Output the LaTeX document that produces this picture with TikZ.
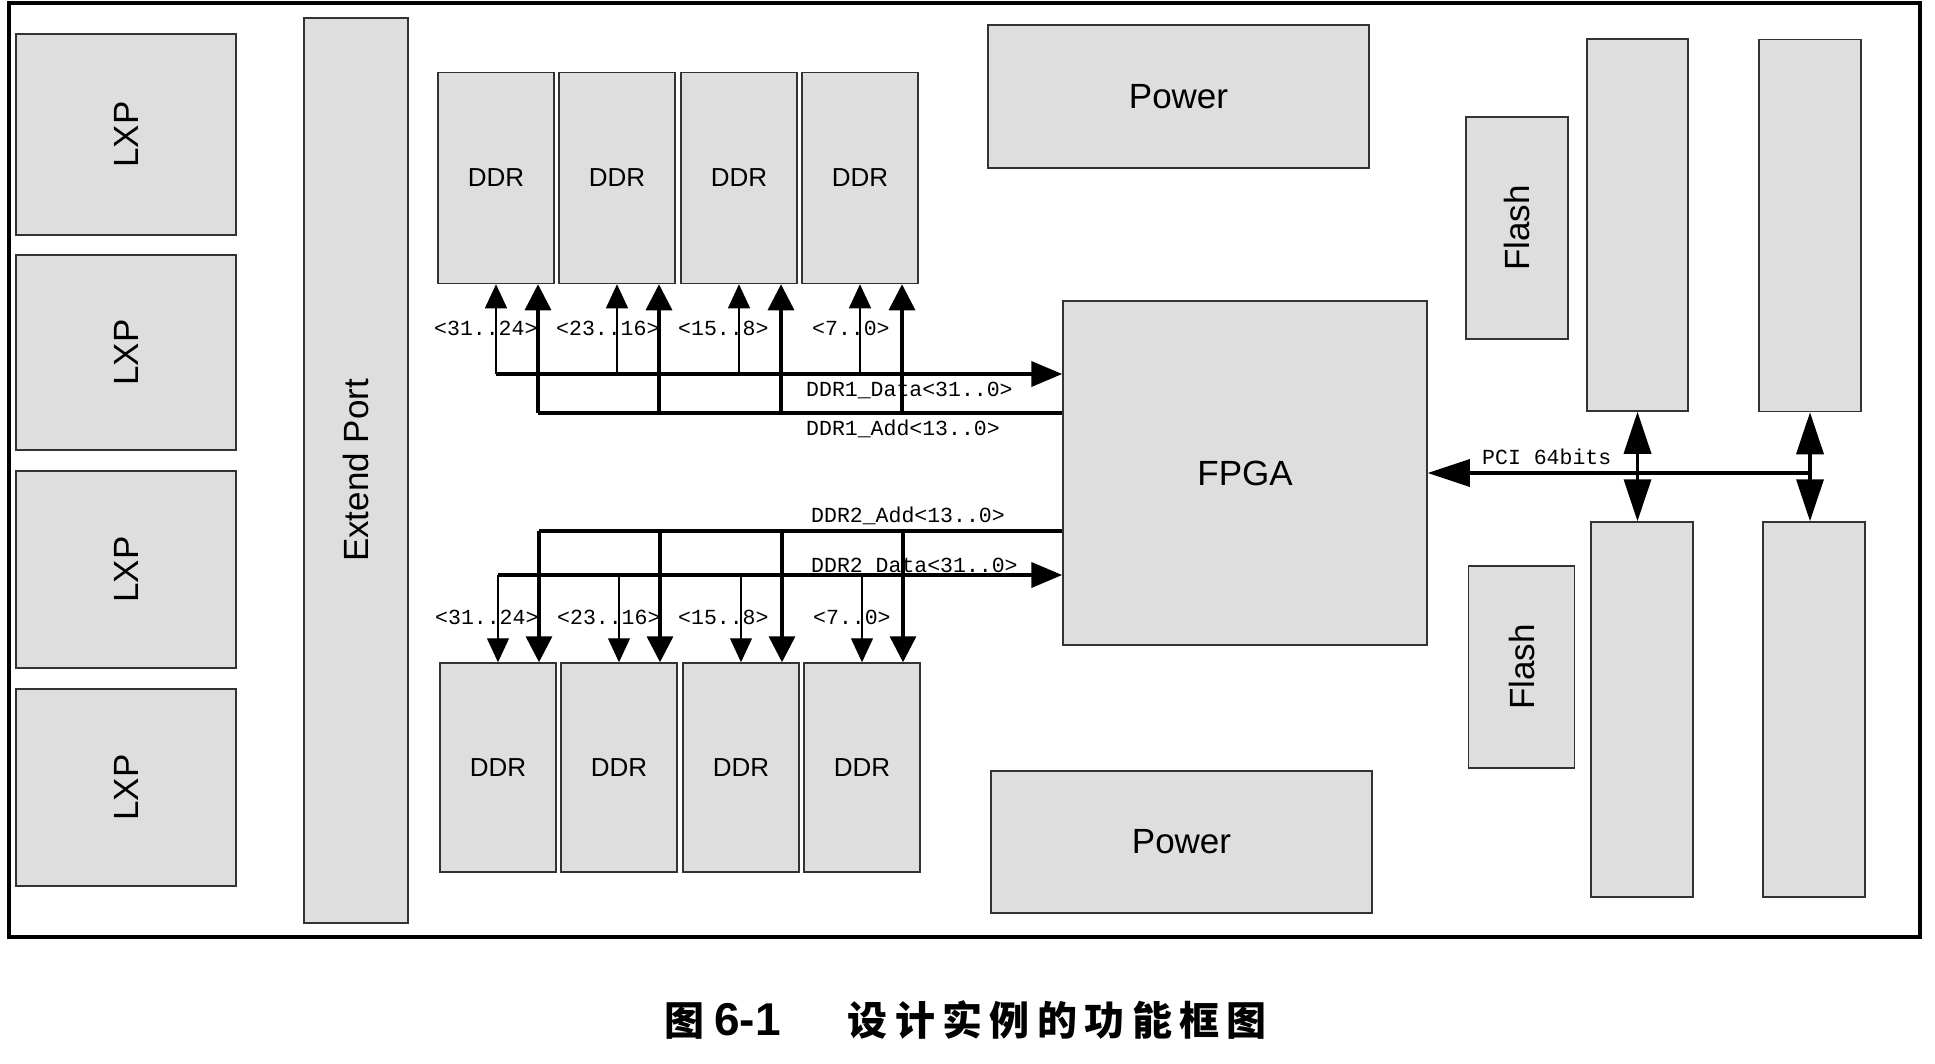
\documentclass[tikz,border=0pt]{standalone}
\usepackage{fontspec}
\setmainfont{Liberation Sans}
\setmonofont{Liberation Mono}
\newfontfamily\cjk{Noto Sans CJK SC}
\usetikzlibrary{arrows.meta,positioning,calc}

\begin{document}
\begin{tikzpicture}[x=1pt, y=-1pt,
  box/.style={draw=black!80, fill=black!13, line width=1.5pt, inner sep=0pt},
  big/.style={font=\fontsize{35}{40}\selectfont},
  ddr/.style={box, minimum width=116pt, minimum height=211pt, font=\fontsize{26}{30}\selectfont},
  sig/.style={font=\ttfamily\fontsize{21.5}{24}\selectfont, inner sep=0pt, anchor=base west},
  datbus/.style={line width=1.3pt, -{Triangle[length=24pt,width=22pt]}},
  addbus/.style={line width=3.5pt, -{Triangle[length=26pt,width=26pt]}},
  pci/.style={line width=3.5pt, {Triangle[length=42pt,width=27pt]}-{Triangle[length=42pt,width=27pt]}}]
\useasboundingbox (0,0) rectangle (1935,1063);

% outer frame
\draw[line width=4pt] (9,3) rectangle (1920,937);

% left column
\foreach \i/\y/\h in {1/134.5/201, 2/352.5/195, 3/569.5/197, 4/787.5/197}
  \node[box, big, minimum width=220pt, minimum height=\h pt] (L\i) at (126,\y) {\rotatebox{90}{LXP}};
\node[box, big, minimum width=104pt, minimum height=905pt] (ext) at (356,470.5) {\rotatebox{90}{Extend Port}};

% DDR banks
\foreach \i/\x in {1/496, 2/617, 3/739, 4/860}{
  \node[ddr] (T\i) at (\x,178) {DDR};
  \node[ddr, minimum height=209pt] (B\i) at (\x+2,767.5) {DDR};
}

\node[box, big, minimum width=381pt, minimum height=143pt] (pw1) at (1178.5,96.5) {Power};
\node[box, big, minimum width=381pt, minimum height=142pt] (pw2) at (1181.5,842) {Power};
\node[box, big, minimum width=364pt, minimum height=344pt] (fpga) at (1245,473) {FPGA};

\node[box, big, minimum width=102pt, minimum height=222pt] (fl1) at (1517,228) {\rotatebox{90}{Flash}};
\node[box, big, minimum width=106pt, minimum height=202pt] (fl2) at (1521.5,667) {\rotatebox{90}{Flash}};

% PCI slots
\node[box, minimum width=101pt, minimum height=372pt] (s1) at (1637.5,225) {};
\node[box, minimum width=102pt, minimum height=372pt] (s2) at (1810,225.5) {};
\node[box, minimum width=102pt, minimum height=375pt] (s3) at (1642,709.5) {};
\node[box, minimum width=102pt, minimum height=375pt] (s4) at (1814,709.5) {};

% DDR1 bus
\coordinate (d1) at (496,374);
\coordinate (a1) at (538,413);
\draw[line width=4pt, -{Triangle[length=31pt,width=25pt]}] (d1) -- (fpga.west |- d1);
\draw[line width=3.5pt] (a1) -- (fpga.west |- a1);
\foreach \i in {1,...,4}{
  \path (T\i.south) ++(42,0) coordinate (T\i x);
  \draw[datbus] (T\i.south |- d1) -- (T\i.south);
  \draw[addbus] (T\i x |- a1) -- (T\i x);
}
\foreach \i/\x/\t in {1/434/{<31..24>}, 2/556/{<23..16>}, 3/678/{<15..8>}, 4/812/{<7..0>}}
  \node[sig] (lt\i) at (\x,335.5) {\t};
\node[sig] (dl1) at (806,396) {DDR1\_Data<31..0>};
\node[sig] (al1) at (806,435) {DDR1\_Add<13..0>};

% DDR2 bus
\coordinate (d2) at (498,575);
\coordinate (a2) at (539,531);
\draw[line width=4pt, -{Triangle[length=31pt,width=25pt]}] (d2) -- (fpga.west |- d2);
\draw[line width=3.5pt] (a2) -- (fpga.west |- a2);
\foreach \i in {1,...,4}{
  \path (B\i.north) ++(41,0) coordinate (B\i x);
  \draw[datbus] (B\i.north |- d2) -- (B\i.north);
  \draw[addbus] (B\i x |- a2) -- (B\i x);
}
\foreach \i/\x/\t in {1/435/{<31..24>}, 2/557/{<23..16>}, 3/678/{<15..8>}, 4/813/{<7..0>}}
  \node[sig] (lb\i) at (\x,624) {\t};
\node[sig] (al2) at (811,522) {DDR2\_Add<13..0>};
\node[sig] (dl2) at (811,572) {DDR2\_Data<31..0>};

% PCI bus
\draw[line width=3.5pt, -{Triangle[length=42pt,width=27pt]}] (s2.south |- fpga.east) -- (fpga.east);
\draw[pci] (s1.south) -- (s1.south |- s3.north);
\draw[pci] (s2.south) -- (s2.south |- s4.north);
\node[sig] (pcil) at (1482,464.5) {PCI 64bits};

\node[font=\cjk\bfseries\fontsize{40}{44}\selectfont, inner sep=0pt, anchor=west] (cap) at (664,1020)
  {图\hspace{10pt}{\fontspec{Liberation Sans}\bfseries\fontsize{46}{48}\selectfont 6-1}\hspace{67pt}{\addfontfeature{LetterSpace=18.5}设计实例的功能框图}};
\end{tikzpicture}
\end{document}
